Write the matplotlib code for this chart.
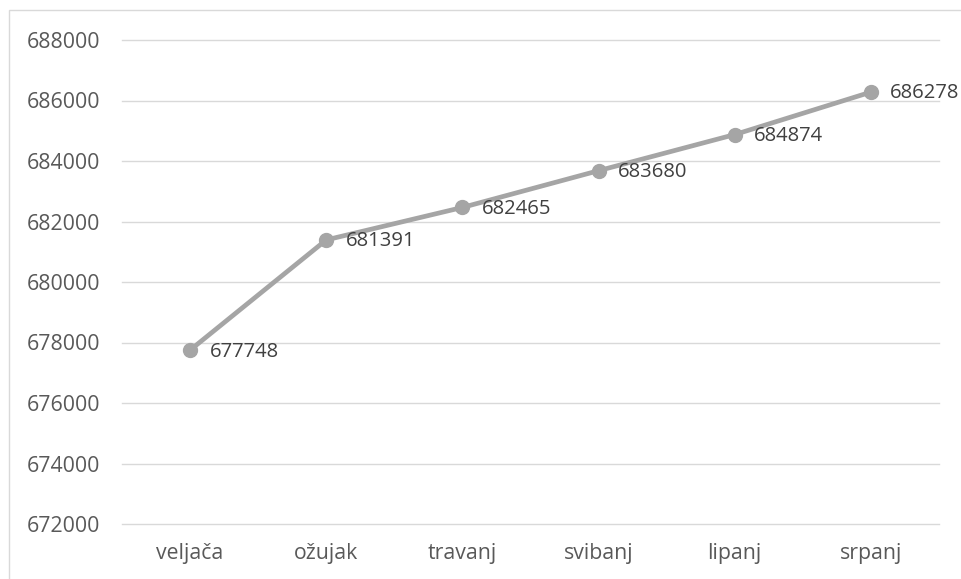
import matplotlib
matplotlib.use("Agg")
import matplotlib.pyplot as plt
from matplotlib.patches import Rectangle

months = ["veljača", "ožujak", "travanj", "svibanj", "lipanj", "srpanj"]
values = [677748, 681391, 682465, 683680, 684874, 686278]
y_ticks = [672000, 674000, 676000, 678000, 680000, 682000, 684000, 686000, 688000]

W, H = 962, 579
fig = plt.figure(figsize=(W / 100, H / 100), dpi=100)
plt.rcParams["font.family"] = ["Open Sans", "DejaVu Sans"]

# outer chart frame
fig.patches.append(Rectangle((9 / W, -0.1), 1.2, 1.1 - 10 / H, transform=fig.transFigure,
                             fill=False, edgecolor="#D9D9D9", linewidth=1.0))

ax = fig.add_axes([122 / W, 55 / H, (939 - 122) / W, (524 - 40) / H])
x = list(range(len(months)))
ax.plot(x, values, color="#A5A5A5", linewidth=3.4, marker="o", markersize=10,
        markerfacecolor="#A5A5A5", markeredgecolor="#A5A5A5", zorder=3,
        solid_capstyle="round")

for xi, v in zip(x, values):
    ax.annotate(f"{v}", (xi, v), xytext=(14, -1), textcoords="offset points",
                ha="left", va="center", fontsize=14.6, color="#404040", zorder=4,
                annotation_clip=False)

ax.set_xlim(-0.5, len(months) - 0.5)
ax.set_ylim(672000, 688000)
ax.set_yticks(y_ticks)
ax.set_yticklabels([str(t) for t in y_ticks])
ax.set_xticks(x)
ax.set_xticklabels(months)
ax.grid(axis="y", color="#D9D9D9", linewidth=1.0)
for gl in ax.get_ygridlines():
    gl.set_clip_on(False)
ax.set_axisbelow(True)
for s in ax.spines.values():
    s.set_visible(False)
ax.tick_params(axis="both", length=0, labelsize=15.3, labelcolor="#595959")
ax.tick_params(axis="y", pad=16)
ax.tick_params(axis="x", pad=14)

fig.savefig("out.png", dpi=100)
